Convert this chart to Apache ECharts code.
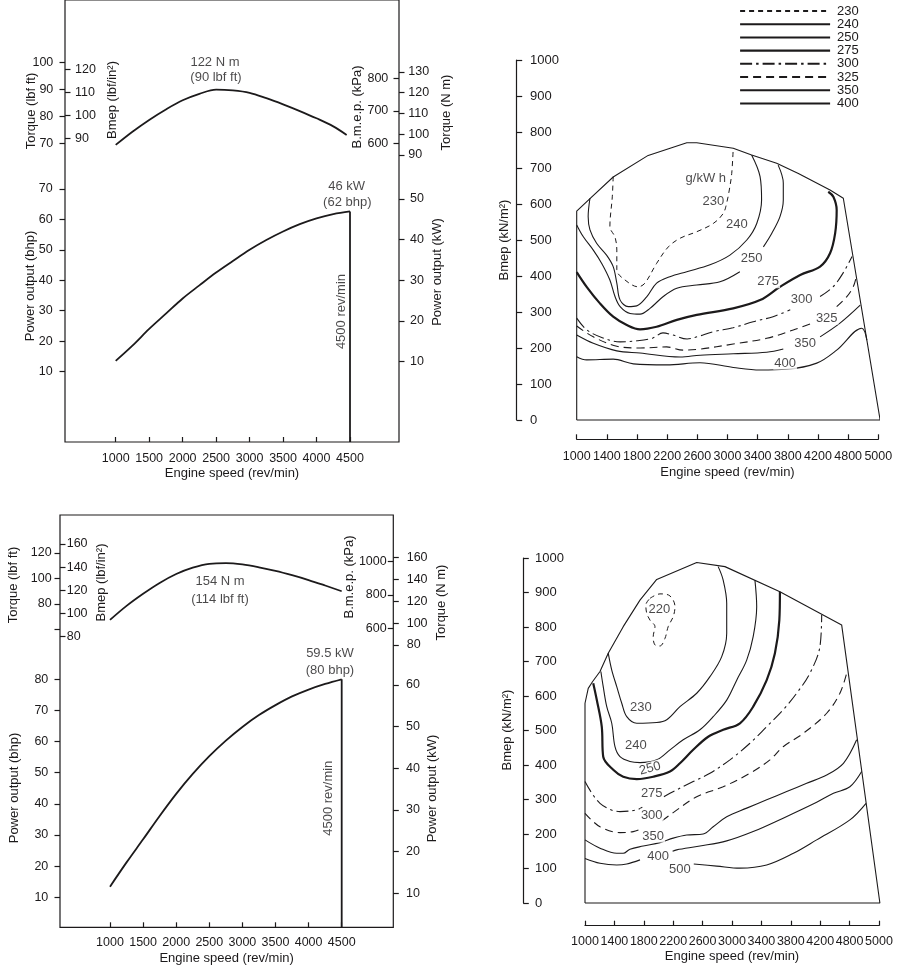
<!DOCTYPE html>
<html>
<head>
<meta charset="utf-8">
<title>Engine performance curves and bsfc maps</title>
<script src="https://cdn.jsdelivr.net/npm/echarts@6.0.0/dist/echarts.min.js"></script>
<style>
html,body{margin:0;padding:0;background:#fff;}
#chart{width:903px;height:969px;}
</style>
</head>
<body>
<div id="chart"></div>
<script>
// ================= DATA =================
// shared engine speed ticks (rev/min) for the performance panels
const speedTicks = [1000, 1500, 2000, 2500, 3000, 3500, 4000, 4500];
// engine speed tick labels of the bsfc maps (evenly spaced ticks)
const mapSpeedLabels = ['1000', '1400', '1800', '2200', '2600', '3000', '3400', '3800', '4200', '4800', '5000'];

// ---- top-left engine ----
const tlTorqueLbf = [[1000, 69.4], [1250, 74.3], [1500, 78.7], [1750, 82.6], [2000, 86], [2250, 88.4], [2500, 90], [2750, 89.7], [3000, 88.8], [3250, 86.8], [3500, 84.5], [3750, 82], [4000, 79.3], [4250, 76.3], [4450, 73.1]];
const tlPowerBhp = [[1000, 13.5], [1250, 18.5], [1500, 24], [1750, 29], [2000, 34], [2250, 38.3], [2500, 42.5], [2750, 46.3], [3000, 50], [3250, 53.2], [3500, 56], [3750, 58.4], [4000, 60.3], [4250, 61.7], [4500, 62.6]];
const tlRatedSpeed = 4500;
const tlTorqueLbfTicks = [70, 80, 90, 100];
const tlBmepPsiTicks = [90, 100, 110, 120];
const tlBmepKpaTicks = [600, 700, 800];
const tlTorqueNmTicks = [90, 100, 110, 120, 130];
const tlPowerBhpTicks = [10, 20, 30, 40, 50, 60, 70];
const tlPowerKwTicks = [10, 20, 30, 40, 50];
const tlTorqueNotes = [[2483, 100.0, '122 N m'], [2498, 94.6, '(90 lbf ft)']];
const tlPowerNotes = [[4451, 70.9, '46 kW'], [4460, 65.7, '(62 bhp)'], [4376, 29.7, '4500 rev/min', 90]];

// ---- bottom-left engine ----
const blTorqueLbf = [[1000, 67.5], [1250, 78.5], [1500, 88], [1750, 96.5], [2000, 103.5], [2250, 108.5], [2500, 111.5], [2750, 112], [3000, 111], [3250, 108.8], [3500, 106], [3750, 102.6], [4000, 98.8], [4250, 94.5], [4500, 90]];
const blPowerBhp = [[1000, 13.4], [1250, 21.2], [1500, 28.6], [1750, 36.1], [2000, 43.2], [2250, 49.6], [2500, 55.3], [2750, 60.3], [3000, 64.7], [3250, 68.5], [3500, 71.7], [3750, 74.5], [4000, 76.7], [4250, 78.5], [4500, 80]];
const blRatedSpeed = 4500;
const blTorqueLbfTicks = [60, 80, 100, 120];
const blTorqueLbfLabels = [80, 100, 120];
const blBmepPsiTicks = [80, 100, 120, 140, 160];
const blBmepKpaTicks = [600, 800, 1000];
const blTorqueNmTicks = [80, 100, 120, 140, 160];
const blPowerBhpTicks = [10, 20, 30, 40, 50, 60, 70, 80];
const blPowerKwTicks = [10, 20, 30, 40, 50, 60];
const blTorqueNotes = [[2662, 97.5, '154 N m'], [2662, 83.9, '(114 lbf ft)']];
const blPowerNotes = [[4323, 88.3, '59.5 kW'], [4323, 83.0, '(80 bhp)'], [4298, 41.8, '4500 rev/min', 90]];

// ---- top-right bsfc map (x = speed tick index, y = Bmep kN/m2) ----
const trBoundary = [[0, 0], [0, 580], [0.44, 615], [1.21, 675], [2.37, 735], [3.65, 770], [3.98, 770], [5.19, 755], [5.80, 736], [6.63, 713], [7.35, 685], [8.40, 639], [8.84, 616], [10.06, 0], [0, 0]];
const tr230 = [[1.21, 676], [1.18, 620], [1.10, 537], [1.27, 508], [1.33, 472], [1.33, 417], [1.60, 389], [2.04, 370], [2.26, 380], [2.65, 435], [3.04, 481], [3.43, 505], [3.98, 523], [4.53, 546], [4.86, 574], [4.97, 602], [5.06, 639], [5.14, 685], [5.19, 755]];
const tr240 = [[0.44, 616], [0.38, 565], [0.44, 528], [0.66, 491], [0.99, 458], [1.21, 426], [1.33, 380], [1.44, 333], [1.71, 315], [1.99, 317], [2.32, 342], [2.65, 380], [3.09, 398], [3.65, 412], [4.42, 431], [5.08, 458], [5.64, 500], [5.97, 546], [6.13, 611], [6.08, 676], [5.80, 736]];
const tr250a = [[0, 542], [0.22, 509], [0.55, 472], [0.83, 435], [1.10, 389], [1.27, 343], [1.44, 315], [1.77, 296], [2.10, 294], [2.43, 310], [2.87, 343], [3.32, 366], [3.98, 375], [4.75, 384], [5.41, 412]];
const tr250b = [[6.19, 481], [6.47, 519], [6.74, 565], [6.85, 611], [6.85, 658], [6.68, 708]];
const tr275 = [[0, 411], [0.33, 370], [0.77, 324], [1.21, 287], [1.66, 264], [2.10, 252], [2.65, 259], [3.32, 278], [3.98, 292], [5.19, 310], [6.08, 333], [6.74, 370], [7.41, 403], [8.07, 426], [8.40, 463], [8.57, 519], [8.62, 583], [8.51, 620], [8.34, 634]];
const tr300a = [[0, 283], [0.34, 250], [0.87, 228], [1.44, 217], [2.00, 220], [2.53, 228], [2.86, 242], [3.19, 236], [3.66, 225], [3.99, 231], [4.52, 245], [5.18, 256], [5.85, 273], [6.51, 287], [7.08, 306]];
const tr300b = [[8.07, 343], [8.50, 370], [8.83, 408], [9.13, 454]];
const tr325a = [[0, 261], [0.55, 231], [1.33, 205], [2.10, 200], [2.98, 203], [3.53, 194], [4.09, 197], [5.19, 211], [6.30, 227], [7.18, 250], [7.74, 267]];
const tr325b = [[8.62, 315], [8.95, 342], [9.17, 370], [9.26, 394]];
const tr350a = [[0, 236], [0.55, 213], [1.33, 192], [2.10, 186], [3.43, 175], [4.09, 180], [5.19, 184], [6.30, 188], [6.85, 197]];
const tr350b = [[8.07, 231], [8.73, 269], [9.40, 319]];
const tr400 = [[0, 176], [0.33, 167], [1.21, 169], [1.88, 156], [2.98, 153], [4.09, 159], [5.19, 146], [6.08, 139], [6.96, 141], [7.96, 158], [8.62, 194], [9.45, 255], [9.62, 222]];
const trNotes = [[4.28, 672, 'g/kW h'], [4.53, 606, '230'], [5.31, 542, '240'], [5.80, 449, '250'], [6.35, 384, '275'], [7.46, 336, '300'], [8.29, 283, '325'], [7.57, 213, '350'], [6.91, 158, '400']];
const legendLevels = ['230', '240', '250', '275', '300', '325', '350', '400'];

// ---- bottom-right bsfc map ----
const brBoundary = [[0, 0], [0, 579], [0.11, 622], [0.26, 642], [0.51, 671], [0.79, 724], [1.30, 801], [1.87, 878], [2.44, 938], [3.80, 987], [4.76, 975], [6.63, 902], [8.73, 806], [10.03, 0], [0, 0]];
const br220 = [[2.21, 883], [2.55, 896], [2.89, 890], [3.06, 859], [3.00, 830], [2.83, 801], [2.72, 767], [2.55, 745], [2.38, 748], [2.32, 772], [2.38, 801], [2.21, 820], [2.10, 840], [2.07, 864], [2.21, 883]];
const br230 = [[4.53, 975], [4.70, 936], [4.82, 869], [4.82, 782], [4.65, 714], [4.25, 656], [3.80, 608], [3.23, 569], [2.78, 531], [2.44, 523], [1.76, 521], [1.42, 540], [1.25, 579], [1.08, 627], [0.91, 675], [0.79, 724]];
const br240 = [[5.78, 936], [5.84, 859], [5.72, 772], [5.50, 704], [5.16, 646], [4.82, 588], [4.36, 540], [3.91, 502], [3.34, 473], [2.89, 444], [2.44, 415], [1.87, 407], [1.53, 410], [1.19, 424], [1.02, 453], [0.91, 521], [0.74, 569], [0.62, 627], [0.54, 671]];
const br250 = [[6.63, 902], [6.61, 820], [6.46, 724], [6.18, 646], [5.72, 569], [5.27, 521], [4.70, 502], [4.19, 482], [3.68, 444], [3.23, 405], [2.89, 381], [2.32, 366], [1.76, 359], [1.30, 366], [0.96, 386], [0.62, 424], [0.57, 511], [0.40, 589], [0.28, 637]];
const br275a = [[0, 352], [0.51, 289], [1.19, 265], [1.76, 270], [1.95, 278]];
const br275b = [[2.68, 308], [2.89, 318], [3.68, 352], [4.25, 376], [4.93, 415], [5.61, 463], [6.18, 511], [6.74, 560], [7.20, 608], [7.65, 666], [7.99, 743], [8.05, 835]];
const br300a = [[0, 260], [0.51, 221], [1.19, 204], [1.64, 207], [1.98, 217]];
const br300b = [[2.62, 238], [3.00, 262], [3.80, 308], [4.70, 337], [5.61, 376], [6.29, 415], [6.74, 453], [7.43, 492], [8.22, 550], [8.67, 608], [8.90, 666]];
const br350 = [[0, 183], [0.51, 159], [1.08, 144], [1.30, 144], [1.53, 156], [1.98, 165], [2.55, 175], [3.00, 188], [3.46, 197], [4.02, 200], [4.36, 221], [4.82, 250], [5.50, 275], [6.18, 299], [6.86, 323], [7.54, 347], [8.22, 371], [8.79, 405], [9.24, 473]];
const br400a = [[0, 129], [0.51, 115], [1.08, 110], [1.42, 113], [1.87, 125]];
const br400b = [[2.98, 150], [3.12, 154], [3.91, 165], [4.82, 180], [5.72, 207], [6.74, 246], [7.88, 292], [8.45, 318], [9.01, 337], [9.41, 381]];
const br500 = [[3.70, 113], [4.48, 107], [5.27, 101], [6.18, 110], [7.09, 144], [7.88, 183], [9.01, 241], [9.56, 289]];
const brNotes = [[2.53, 851, '220'], [1.90, 567, '230'], [1.73, 458, '240'], [2.21, 390, '250', 15], [2.27, 318, '275'], [2.27, 255, '300'], [2.32, 194, '350'], [2.49, 134, '400'], [3.23, 96, '500']];

// ================= STYLE / LAYOUT =================
const ink = '#1c1a1b';
const FF = '"Liberation Sans", Arial, Helvetica, sans-serif';
const DASH_SHORT = [5, 4];
const DASH_DOT = [12, 4, 2.5, 4];
const DASH_MED = [8, 5];

// axis ranges chosen so the scales fall where the picture puts them
const TL = {speedMin: 242.6, speedMax: 5232, bhpMin: -13.16, bhpMax: 132.06, kwMin: -9.75, kwMax: 98.82,
  lbfMin: 61.92, lbfMax: 108.44, psiMin: 78.39, psiMax: 132.74, kpaMin: 533.2, kpaMax: 917.85, nmMin: 85.19, nmMax: 145.29};
const BL = {speedMin: 244.7, speedMax: 5279.5, bhpMin: 0.35, bhpMax: 132.76, kwMin: 1.84, kwMax: 100.81,
  lbfMin: 43.92, lbfMax: 138.04, psiMin: 68.13, psiMax: 172.13, kpaMin: 468.5, kpaMax: 1189.2, nmMin: 75.44, nmMax: 184.9};

const plain = v => String(Math.round(v));

function yAx(o) {
  return {
    type: 'value', gridIndex: o.grid, position: o.pos, offset: o.offset || 0,
    min: o.min, max: o.max, interval: o.interval, show: o.show !== false,
    axisLine: {show: !!o.line, onZero: false, lineStyle: {color: ink, width: 1.2}},
    axisTick: {show: true, inside: !!o.inside, length: 5.5, customValues: o.ticks, lineStyle: {color: ink, width: 1.2}},
    axisLabel: {show: true, inside: !!o.inside, margin: o.margin, customValues: o.labels || o.ticks, formatter: o.fmt || plain,
      color: ink, fontSize: o.fs || 12.5, fontFamily: FF},
    splitLine: {show: false}
  };
}
function xAx(o) {
  return {
    type: 'value', gridIndex: o.grid, position: 'bottom', offset: o.offset || 0,
    min: o.min, max: o.max, interval: o.interval, show: o.show !== false,
    axisLine: {show: !!o.line, onZero: false, lineStyle: {color: ink, width: 1.2}},
    axisTick: {show: true, inside: true, length: 5, customValues: o.ticks, lineStyle: {color: ink, width: 1.2}},
    axisLabel: {show: true, margin: o.margin, customValues: o.ticks, formatter: o.fmt || plain, color: ink, fontSize: 12.5, fontFamily: FF},
    splitLine: {show: false},
    name: o.name, nameLocation: 'middle', nameGap: o.nameGap,
    nameTextStyle: {color: ink, fontSize: 13, fontFamily: FF}
  };
}
function hiddenX(grid, min, max) {
  return {type: 'value', gridIndex: grid, min: min, max: max, show: false, splitLine: {show: false}};
}
function curve(name, data, xi, yi, w, dash, smooth) {
  return {
    type: 'line', name: name, data: data, xAxisIndex: xi, yAxisIndex: yi,
    symbol: 'none', smooth: smooth === undefined ? 0.35 : smooth, clip: false, silent: true,
    itemStyle: {color: ink},
    lineStyle: {color: ink, width: w, type: dash || 'solid', cap: 'butt'}
  };
}
function notes(arr, xi, yi, fs, bg) {
  return {
    type: 'scatter', xAxisIndex: xi, yAxisIndex: yi, symbolSize: 1, silent: true, z: 5,
    itemStyle: {color: 'rgba(0,0,0,0)'},
    data: arr.map(a => ({name: a[2], value: [a[0], a[1]], label: {rotate: a[3] || 0}})),
    label: {show: true, position: 'inside', formatter: p => p.name, color: ink, fontSize: fs, fontFamily: FF,
      backgroundColor: bg ? '#fff' : 'transparent', padding: bg ? [0, 1] : 0}
  };
}
function vtext(text, x, y) {
  return {type: 'text', x: x, y: y, rotation: Math.PI / 2, silent: true,
    style: {text: text, fill: ink, font: '13px ' + FF, align: 'center', verticalAlign: 'middle',
      textAlign: 'center', textVerticalAlign: 'middle'}};
}
const speedFmt = v => mapSpeedLabels[Math.round(v)];

const option = {
  animation: false,
  backgroundColor: '#fff',
  textStyle: {fontFamily: FF, color: ink},
  legend: {
    data: legendLevels.map(n => (n === '275' ? {name: n, lineStyle: {width: 2.2}} : {name: n})),
    orient: 'vertical', left: 739, top: 4.5, padding: 0,
    itemWidth: 90, itemHeight: 10, itemGap: 0.2, selectedMode: false,
    itemStyle: {color: 'rgba(0,0,0,0)', borderColor: 'rgba(0,0,0,0)', borderWidth: 0, opacity: 0},
    textStyle: {fontSize: 13, color: ink, fontFamily: FF, lineHeight: 12, padding: [0, 0, 0, 2]}
  },
  grid: [
    {left: 65, top: -5, width: 334, height: 447, show: true, borderColor: ink, borderWidth: 1.2, backgroundColor: 'transparent'},
    {left: 65, top: 40, width: 334, height: 125},
    {left: 576.7, top: 60, width: 301.6, height: 360},
    {left: 60, top: 515, width: 333.3, height: 412.3, show: true, borderColor: ink, borderWidth: 1.2, backgroundColor: 'transparent'},
    {left: 60, top: 530, width: 333.3, height: 120},
    {left: 585, top: 558, width: 294, height: 345}
  ],
  xAxis: [
    xAx({grid: 0, min: TL.speedMin, max: TL.speedMax, ticks: speedTicks, margin: 10, name: 'Engine speed (rev/min)', nameGap: 25}),
    hiddenX(1, TL.speedMin, TL.speedMax),
    xAx({grid: 2, min: 0, max: 10, interval: 1, offset: 19.3, line: true, fmt: speedFmt, margin: 11, name: 'Engine speed (rev/min)', nameGap: 27}),
    xAx({grid: 3, min: BL.speedMin, max: BL.speedMax, ticks: speedTicks, margin: 9, name: 'Engine speed (rev/min)', nameGap: 24.5}),
    hiddenX(4, BL.speedMin, BL.speedMax),
    xAx({grid: 5, min: 0, max: 10, interval: 1, offset: 22.7, line: true, fmt: speedFmt, margin: 9.7, name: 'Engine speed (rev/min)', nameGap: 24})
  ],
  yAxis: [
    // top-left
    yAx({grid: 0, pos: 'left', min: TL.bhpMin, max: TL.bhpMax, ticks: tlPowerBhpTicks, margin: 12.3}),
    yAx({grid: 0, pos: 'right', min: TL.kwMin, max: TL.kwMax, ticks: tlPowerKwTicks, margin: 11}),
    yAx({grid: 1, pos: 'left', min: TL.lbfMin, max: TL.lbfMax, ticks: tlTorqueLbfTicks, margin: 11.7}),
    yAx({grid: 1, pos: 'left', min: TL.psiMin, max: TL.psiMax, ticks: tlBmepPsiTicks, inside: true, margin: 10}),
    yAx({grid: 1, pos: 'right', min: TL.kpaMin, max: TL.kpaMax, ticks: tlBmepKpaTicks, inside: true, margin: 10.7}),
    yAx({grid: 1, pos: 'right', min: TL.nmMin, max: TL.nmMax, ticks: tlTorqueNmTicks, margin: 9.3}),
    // top-right
    yAx({grid: 2, pos: 'left', min: 0, max: 1000, interval: 100, offset: 60, line: true, inside: true, margin: 13.3, fs: 13}),
    // bottom-left
    yAx({grid: 3, pos: 'left', min: BL.bhpMin, max: BL.bhpMax, ticks: blPowerBhpTicks, margin: 11.7}),
    yAx({grid: 3, pos: 'right', min: BL.kwMin, max: BL.kwMax, ticks: blPowerKwTicks, margin: 12.7}),
    yAx({grid: 4, pos: 'left', min: BL.lbfMin, max: BL.lbfMax, ticks: blTorqueLbfTicks, labels: blTorqueLbfLabels, margin: 8.3}),
    yAx({grid: 4, pos: 'left', min: BL.psiMin, max: BL.psiMax, ticks: blBmepPsiTicks, inside: true, margin: 6.7}),
    yAx({grid: 4, pos: 'right', min: BL.kpaMin, max: BL.kpaMax, ticks: blBmepKpaTicks, inside: true, margin: 6.6}),
    yAx({grid: 4, pos: 'right', min: BL.nmMin, max: BL.nmMax, ticks: blTorqueNmTicks, margin: 13.4}),
    // bottom-right
    yAx({grid: 5, pos: 'left', min: 0, max: 1000, interval: 100, offset: 61.7, line: true, inside: true, margin: 11.7, fs: 13})
  ],
  graphic: [
    vtext('Torque (lbf ft)', 31, 111), vtext('Bmep (lbf/in²)', 112.5, 100), vtext('B.m.e.p. (kPa)', 357.5, 107), vtext('Torque (N m)', 446.7, 112.5),
    vtext('Power output (bhp)', 30.8, 286), vtext('Power output (kW)', 437.5, 272),
    vtext('Bmep (kN/m²)', 504.5, 240),
    vtext('Torque (lbf ft)', 13.3, 585), vtext('Bmep (lbf/in²)', 101, 582.5), vtext('B.m.e.p. (kPa)', 349, 577), vtext('Torque (N m)', 441, 602.5),
    vtext('Power output (bhp)', 14, 788), vtext('Power output (kW)', 432.5, 788.5),
    vtext('Bmep (kN/m²)', 507, 730)
  ],
  series: [
    // top-left
    curve('tlTorque', tlTorqueLbf, 1, 2, 1.8, 'solid', 0.35),
    curve('tlPower', tlPowerBhp, 0, 0, 1.8, 'solid', 0.35),
    curve('tlRated', [[tlRatedSpeed, tlPowerBhp[tlPowerBhp.length - 1][1]], [tlRatedSpeed, TL.bhpMin]], 0, 0, 1.8, 'solid', false),
    notes(tlTorqueNotes, 1, 2, 13, false),
    notes(tlPowerNotes, 0, 0, 13, false),
    // bottom-left
    curve('blTorque', blTorqueLbf, 4, 9, 1.8, 'solid', 0.35),
    curve('blPower', blPowerBhp, 3, 7, 1.8, 'solid', 0.35),
    curve('blRated', [[blRatedSpeed, blPowerBhp[blPowerBhp.length - 1][1]], [blRatedSpeed, BL.bhpMin]], 3, 7, 1.8, 'solid', false),
    notes(blTorqueNotes, 4, 9, 13, false),
    notes(blPowerNotes, 3, 7, 13, false),
    // top-right map
    curve('trBoundary', trBoundary, 2, 6, 1.1, 'solid', false),
    curve('230', tr230, 2, 6, 1, DASH_SHORT),
    curve('240', tr240, 2, 6, 1.1),
    curve('250', tr250a, 2, 6, 1.1),
    curve('250', tr250b, 2, 6, 1.1),
    curve('275', tr275, 2, 6, 2.2),
    curve('300', tr300a, 2, 6, 1.1, DASH_DOT),
    curve('300', tr300b, 2, 6, 1.1, DASH_DOT),
    curve('325', tr325a, 2, 6, 1.1, DASH_MED),
    curve('325', tr325b, 2, 6, 1.1, DASH_MED),
    curve('350', tr350a, 2, 6, 1.1),
    curve('350', tr350b, 2, 6, 1.1),
    curve('400', tr400, 2, 6, 1.1),
    notes(trNotes, 2, 6, 13, true),
    // bottom-right map
    curve('brBoundary', brBoundary, 5, 13, 1.1, 'solid', false),
    curve('b220', br220, 5, 13, 1, DASH_SHORT),
    curve('b230', br230, 5, 13, 1.1),
    curve('b240', br240, 5, 13, 1.1),
    curve('b250', br250, 5, 13, 2.2),
    curve('b275', br275a, 5, 13, 1.1, DASH_DOT),
    curve('b275', br275b, 5, 13, 1.1, DASH_DOT),
    curve('b300', br300a, 5, 13, 1.1, DASH_MED),
    curve('b300', br300b, 5, 13, 1.1, DASH_MED),
    curve('b350', br350, 5, 13, 1.1),
    curve('b400', br400a, 5, 13, 1.1),
    curve('b400', br400b, 5, 13, 1.1),
    curve('b500', br500, 5, 13, 1.1),
    notes(brNotes, 5, 13, 13, true)
  ]
};

const chart = echarts.init(document.getElementById('chart'), null, {renderer: 'canvas'});
chart.setOption(option);
</script>
</body>
</html>
